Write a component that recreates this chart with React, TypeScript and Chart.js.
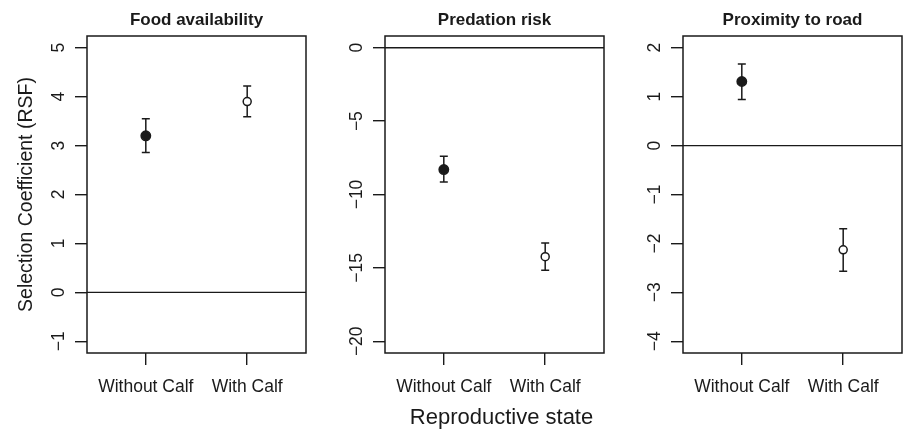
import React, { useEffect, useRef } from 'react';
import { Chart, registerables } from 'chart.js';

Chart.register(...registerables);

const W = 903;
const H = 429;
const INK = '#1a1a1a';
const FONT = '"Liberation Sans", Arial, Helvetica, sans-serif';

// ---- data ----
const categories = ['Without Calf', 'With Calf'];
const panelTitles = ['Food availability', 'Predation risk', 'Proximity to road'];
const yAxisTitle = 'Selection Coefficient (RSF)';
const xAxisTitle = 'Reproductive state';

const foodEst = [3.2, 3.9];
const foodLow = [2.86, 3.59];
const foodHigh = [3.55, 4.22];

const predEst = [-8.3, -14.24];
const predLow = [-9.14, -15.17];
const predHigh = [-7.39, -13.31];

const roadEst = [1.31, -2.13];
const roadLow = [0.94, -2.57];
const roadHigh = [1.67, -1.7];

const foodTicks = [-1, 0, 1, 2, 3, 4, 5];
const predTicks = [-20, -15, -10, -5, 0];
const roadTicks = [-4, -3, -2, -1, 0, 1, 2];

const foodRange = [-1.24, 5.24];
const predRange = [-20.8, 0.8];
const roadRange = [-4.24, 2.24];

const panels = [
  { title: panelTitles[0], est: foodEst, low: foodLow, high: foodHigh, ticks: foodTicks, range: foodRange },
  { title: panelTitles[1], est: predEst, low: predLow, high: predHigh, ticks: predTicks, range: predRange },
  { title: panelTitles[2], est: roadEst, low: roadLow, high: roadHigh, ticks: roadTicks, range: roadRange },
];

// layout of each plot box (pixels)
const boxes = [
  { left: 87, right: 306 },
  { left: 385, right: 604 },
  { left: 683, right: 902 },
];
const BOX_TOP = 36;
const BOX_BOTTOM = 353;
const Y_AXIS_W = 40;
const X_AXIS_H = 40;

const fmt = (v: number) => (v < 0 ? '\u2212' + Math.abs(v) : String(v));

function makePlugin(p: number) {
  const panel = panels[p];
  return {
    id: 'rdeco' + p,
    beforeDatasetsDraw(chart: any) {
      const { ctx, chartArea: a, scales } = chart;
      const x = scales.x;
      const y = scales.y;
      ctx.save();
      ctx.strokeStyle = INK;
      ctx.lineWidth = 1.4;
      const y0 = y.getPixelForValue(0);
      ctx.beginPath();
      ctx.moveTo(a.left, y0);
      ctx.lineTo(a.right, y0);
      ctx.stroke();
      ctx.lineWidth = 1.5;
      for (let i = 0; i < panel.est.length; i++) {
        const xp = x.getPixelForValue(i + 1);
        const yl = y.getPixelForValue(panel.low[i]);
        const yh = y.getPixelForValue(panel.high[i]);
        ctx.beginPath();
        ctx.moveTo(xp, yl);
        ctx.lineTo(xp, yh);
        ctx.moveTo(xp - 4, yl);
        ctx.lineTo(xp + 4, yl);
        ctx.moveTo(xp - 4, yh);
        ctx.lineTo(xp + 4, yh);
        ctx.stroke();
      }
      ctx.restore();
    },
    afterDraw(chart: any) {
      const { ctx, chartArea: a, scales } = chart;
      const y = scales.y;
      ctx.save();
      ctx.strokeStyle = INK;
      ctx.lineWidth = 1.5;
      ctx.strokeRect(a.left, a.top, a.right - a.left, a.bottom - a.top);

      ctx.fillStyle = INK;
      // title
      ctx.font = 'bold 17px ' + FONT;
      ctx.textAlign = 'center';
      ctx.textBaseline = 'alphabetic';
      ctx.fillText(panel.title, (a.left + a.right) / 2, 25);

      // rotated y tick labels
      ctx.font = '17.5px ' + FONT;
      for (const t of y.ticks) {
        const yp = y.getPixelForValue(t.value);
        ctx.save();
        ctx.translate(a.left - 23, yp);
        ctx.rotate(-Math.PI / 2);
        ctx.textAlign = 'center';
        ctx.textBaseline = 'alphabetic';
        ctx.fillText(fmt(t.value), 0, 0);
        ctx.restore();
      }

      if (p === 0) {
        ctx.save();
        ctx.font = '19.5px ' + FONT;
        ctx.translate(32, (a.top + a.bottom) / 2);
        ctx.rotate(-Math.PI / 2);
        ctx.textAlign = 'center';
        ctx.textBaseline = 'alphabetic';
        ctx.fillText(yAxisTitle, 0, 0);
        ctx.restore();
      }
      if (p === 1) {
        ctx.font = '22px ' + FONT;
        ctx.textAlign = 'center';
        ctx.textBaseline = 'alphabetic';
        ctx.fillText(xAxisTitle, (a.left + a.right) / 2 + 7, 424);
      }
      ctx.restore();
    },
  };
}

function Panel({ index }: { index: number }) {
  const ref = useRef<HTMLCanvasElement | null>(null);
  useEffect(() => {
    const canvas = ref.current;
    if (!canvas) return;
    const panel = panels[index];
    const box = boxes[index];
    const grid = {
      drawOnChartArea: false,
      drawTicks: true,
      tickLength: 12,
      color: INK,
      lineWidth: 1.4,
    };
    const chart = new Chart(canvas, {
      type: 'scatter',
      data: {
        datasets: [
          {
            data: panel.est.map((v, i) => ({ x: i + 1, y: v })),
            pointRadius: [4.7, 4.0],
            pointBackgroundColor: [INK, '#ffffff'],
            pointBorderColor: INK,
            pointBorderWidth: 1.5,
            showLine: false,
            clip: false,
          } as any,
        ],
      },
      options: {
        responsive: false,
        animation: false,
        events: [],
        layout: {
          autoPadding: false,
          padding: {
            left: box.left - Y_AXIS_W,
            right: W - box.right,
            top: BOX_TOP,
            bottom: H - BOX_BOTTOM - X_AXIS_H,
          },
        },
        plugins: {
          legend: { display: false },
          tooltip: { enabled: false },
          title: { display: false },
        },
        scales: {
          x: {
            type: 'linear',
            min: 0.42,
            max: 2.58,
            afterBuildTicks: (s: any) => {
              s.ticks = categories.map((_, i) => ({ value: i + 1 }));
            },
            afterFit: (s: any) => {
              s.height = X_AXIS_H;
              s.paddingLeft = 0;
              s.paddingRight = 0;
            },
            ticks: {
              callback: (v: any) => categories[Math.round(Number(v)) - 1] ?? '',
              font: { size: 17.5, family: FONT },
              color: INK,
              padding: 12,
              maxRotation: 0,
              minRotation: 0,
              autoSkip: false,
            },
            grid,
            border: { display: false },
          },
          y: {
            type: 'linear',
            min: panel.range[0],
            max: panel.range[1],
            afterBuildTicks: (s: any) => {
              s.ticks = panel.ticks.map((v) => ({ value: v }));
            },
            afterFit: (s: any) => {
              s.width = Y_AXIS_W;
              s.paddingTop = 0;
              s.paddingBottom = 0;
            },
            ticks: { display: false },
            grid,
            border: { display: false },
          },
        },
      } as any,
      plugins: [makePlugin(index)],
    });
    return () => chart.destroy();
  }, [index]);
  return (
    <canvas
      ref={ref}
      width={W}
      height={H}
      style={{ position: 'absolute', left: 0, top: 0, width: W, height: H }}
    />
  );
}

export default function App() {
  return (
    <div style={{ position: 'fixed', left: 0, top: 0, width: W, height: H, background: '#ffffff' }}>
      {panels.map((_, i) => (
        <Panel key={i} index={i} />
      ))}
    </div>
  );
}
